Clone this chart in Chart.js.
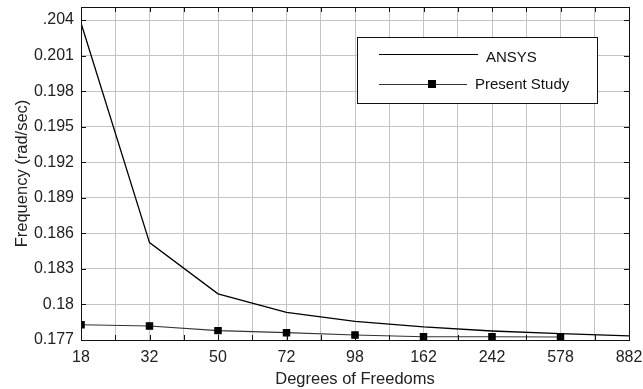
<!DOCTYPE html>
<html>
<head>
<meta charset="utf-8">
<script src="https://cdn.jsdelivr.net/npm/chart.js@4/dist/chart.umd.min.js"></script>
<style>
  html, body { margin: 0; padding: 0; background: #fff; }
  #wrap { width: 643px; height: 389px; }
</style>
</head>
<body>
<div id="wrap"><canvas id="myChart1" width="643" height="389"></canvas></div>
<script>
// degrees of freedom (equally spaced categories)
var dofLabels = ["18", "32", "50", "72", "98", "162", "242", "578", "882"];
var ansysFreq = [0.20375, 0.18522, 0.1809, 0.17934, 0.17858, 0.1781, 0.17776, 0.17753, 0.17735];
var presentFreq = [0.17829, 0.17818, 0.17779, 0.17762, 0.17742, 0.17728, 0.17728, 0.17725, null];
var yTicks = [0.177, 0.18, 0.183, 0.186, 0.189, 0.192, 0.195, 0.198, 0.201, 0.204];
var yTickLabels = ["0.177", "0.18", "0.183", "0.186", "0.189", "0.192", "0.195", "0.198", "0.201", ".204"];

function toPoints(arr) {
	var pts = [];
	for (var i = 0; i < arr.length; i++) {
		if (arr[i] !== null) pts.push({x: i, y: arr[i]});
	}
	return pts;
}

var fontFam = "'Liberation Sans', Arial, sans-serif";

// frame, inner tick marks and the boxed legend
var framePlugin = {
	id: 'frame',
	afterDraw: function(chart) {
		var ctx = chart.ctx, a = chart.chartArea;
		ctx.save();
		ctx.strokeStyle = '#111';
		ctx.lineWidth = 1;
		ctx.strokeRect(Math.round(a.left) + 0.5, Math.round(a.top) + 0.5,
			Math.round(a.right - a.left), Math.round(a.bottom - a.top));
		// small inner ticks
		var xs = chart.scales.x, ys = chart.scales.y;
		ctx.beginPath();
		xs.ticks.forEach(function(t) {
			var px = Math.round(xs.getPixelForValue(t.value)) + 0.5;
			ctx.moveTo(px, a.bottom); ctx.lineTo(px, a.bottom - 5);
			ctx.moveTo(px, a.top); ctx.lineTo(px, a.top + 5);
		});
		ys.ticks.forEach(function(t) {
			var py = Math.round(ys.getPixelForValue(t.value)) + 0.5;
			ctx.moveTo(a.left, py); ctx.lineTo(a.left + 5, py);
			ctx.moveTo(a.right, py); ctx.lineTo(a.right - 5, py);
		});
		ctx.stroke();

		// legend box
		var bx = 357, by = 37, bw = 240, bh = 66;
		ctx.fillStyle = '#fff';
		ctx.fillRect(bx, by, bw, bh);
		ctx.strokeStyle = '#111';
		ctx.strokeRect(bx + 0.5, by + 0.5, bw, bh);
		var ds = chart.data.datasets;
		ctx.font = '15px ' + fontFam;
		ctx.textBaseline = 'middle';
		ctx.fillStyle = '#111';
		// ANSYS
		ctx.strokeStyle = ds[0].borderColor;
		ctx.beginPath(); ctx.moveTo(379, 54.5); ctx.lineTo(478, 54.5); ctx.stroke();
		ctx.fillText(ds[0].label, 486, 58);
		// Present Study
		ctx.strokeStyle = ds[1].borderColor;
		ctx.beginPath(); ctx.moveTo(379, 84.5); ctx.lineTo(467, 84.5); ctx.stroke();
		ctx.fillStyle = '#000';
		ctx.fillRect(428, 80, 8, 8);
		ctx.fillStyle = '#111';
		ctx.fillText(ds[1].label, 475, 85);
		ctx.restore();
	}
};

var ctx = document.getElementById("myChart1").getContext("2d");
window.myLine = new Chart(ctx, {
	type: 'line',
	data: {
		datasets: [{
			label: 'ANSYS',
			data: toPoints(ansysFreq),
			borderColor: '#000',
			borderWidth: 1.3,
			pointRadius: 0,
			fill: false,
			tension: 0
		}, {
			label: 'Present Study',
			data: toPoints(presentFreq),
			borderColor: '#333',
			borderWidth: 1.1,
			pointStyle: 'rect',
			pointRadius: 4.5,
			pointBackgroundColor: '#000',
			pointBorderColor: '#000',
			fill: false,
			tension: 0
		}]
	},
	options: {
		responsive: false,
		animation: false,
		layout: { padding: { top: 7, right: 14, left: 0, bottom: 0 } },
		plugins: {
			legend: { display: false },
			tooltip: { enabled: false }
		},
		scales: {
			x: {
				type: 'linear',
				min: 0,
				max: dofLabels.length - 1,
				afterBuildTicks: function(axis) {
					var t = [];
					for (var v = 0; v <= dofLabels.length - 1; v += 0.5) t.push({value: v});
					axis.ticks = t;
				},
				afterFit: function(axis) {
					axis.height = 49;
					axis.paddingLeft = 0;
					axis.paddingRight = 0;
				},
				ticks: {
					autoSkip: false,
					maxRotation: 0,
					padding: 8,
					color: '#222',
					font: { family: fontFam, size: 16 },
					callback: function(value) {
						return Number.isInteger(value) ? dofLabels[value] : '';
					}
				},
				grid: { color: '#c4c4c4', lineWidth: 1, drawTicks: false },
				border: { display: false },
				title: {
					display: true,
					text: 'Degrees of Freedoms',
					color: '#222',
					font: { family: fontFam, size: 16.5 },
					padding: { top: 1, bottom: 0 }
				}
			},
			y: {
				min: 0.177,
				max: 0.2051,
				afterBuildTicks: function(axis) {
					axis.ticks = yTicks.map(function(v) { return {value: v}; });
				},
				afterFit: function(axis) {
					axis.width = 81;
					axis.paddingTop = 0;
					axis.paddingBottom = 0;
				},
				ticks: {
					padding: 7,
					color: '#222',
					font: { family: fontFam, size: 16 },
					callback: function(value) {
						var i = yTicks.indexOf(value);
						return i >= 0 ? yTickLabels[i] : '';
					}
				},
				grid: { color: '#c4c4c4', lineWidth: 1, drawTicks: false },
				border: { display: false },
				title: {
					display: true,
					text: 'Frequency (rad/sec)',
					color: '#222',
					font: { family: fontFam, size: 16.5 },
					padding: { top: 13, bottom: 4 }
				}
			}
		}
	},
	plugins: [framePlugin]
});
</script>
</body>
</html>
